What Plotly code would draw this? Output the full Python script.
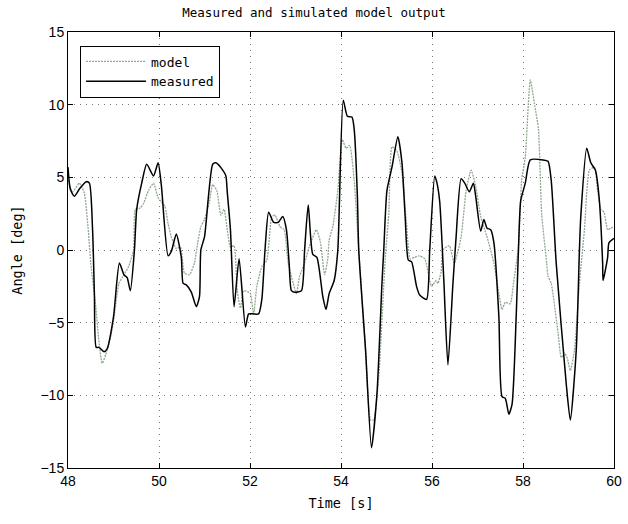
import plotly.graph_objects as go

# measured (black solid)
meas_t = [48.0, 48.05, 48.14, 48.25, 48.4, 48.47, 48.54, 48.58, 48.62, 48.68, 48.79, 48.86, 49.0, 49.13,
          49.23, 49.3, 49.37, 49.46, 49.51, 49.62, 49.73, 49.88, 49.98, 50.05, 50.2, 50.27, 50.38, 50.49,
          50.53, 50.6, 50.71, 50.82, 50.89, 50.92, 51.0, 51.18, 51.25, 51.4, 51.47, 51.5, 51.57, 51.65,
          51.76, 51.9, 51.97, 52.08, 52.19, 52.26, 52.33, 52.41, 52.52, 52.62, 52.72, 52.8, 52.86, 52.91,
          52.98, 53.13, 53.2, 53.28, 53.38, 53.47, 53.6, 53.67, 53.74, 53.85, 53.93, 54.05, 54.14, 54.24,
          54.29, 54.36, 54.39, 54.54, 54.67, 54.79, 54.9, 54.94, 55.01, 55.12, 55.25, 55.34, 55.41, 55.48,
          55.55, 55.66, 55.73, 55.88, 55.95, 56.06, 56.11, 56.17, 56.26, 56.35, 56.46, 56.51, 56.53, 56.64,
          56.72, 56.82, 56.91, 56.96, 57.07, 57.14, 57.21, 57.29, 57.36, 57.47, 57.54, 57.61, 57.69, 57.76,
          57.85, 57.9, 57.95, 58.05, 58.16, 58.44, 58.55, 58.62, 58.73, 58.95, 59.04, 59.17, 59.24, 59.27,
          59.4, 59.49, 59.59, 59.67, 59.75, 59.76, 59.86, 59.89, 60.0]
meas_y = [5.7, 4.2, 3.7, 4.2, 4.7, 4.6, 1.4, -3.0, -6.7, -6.7, -7.0, -6.8, -4.6, -0.9,
          -1.7, -1.9, -2.8, 0.0, 2.8, 4.6, 5.9, 5.1, 6.0, 4.5, -0.4, -0.1, 1.1, -0.5,
          -2.3, -2.4, -2.9, -3.9, -3.2, 0.0, 0.9, 5.9, 6.0, 5.5, 5.1, 4.0, 1.4, -3.9,
          -0.6, -5.3, -4.4, -4.4, -4.4, -3.4, 0.0, 2.6, 1.9, 1.9, 2.3, 1.4, -0.9, -2.8,
          -2.9, -2.8, 0.0, 3.1, -0.3, -0.5, -3.2, -4.1, -3.0, -2.1, 0.0, 10.3, 9.2, 9.15,
          8.3, 3.7, 0.0, -6.9, -13.6, -9.9, -2.3, 0.0, 4.1, 5.7, 7.8, 6.0, 2.3, -0.7,
          -0.8, -2.5, -3.1, -3.4, 0.0, 5.1, 4.6, 3.3, -2.1, -7.9, -2.3, 0.0, 0.9, 4.9,
          4.6, 4.0, 4.6, 3.7, 1.3, 2.1, 1.5, 1.4, 0.5, -4.6, -10.1, -10.2, -11.3, -10.6,
          -4.6, 0.0, 3.4, 4.6, 6.2, 6.2, 6.1, 4.8, -0.9, -9.2, -11.7, -6.9, 0.0, 2.3,
          7.0, 6.0, 5.5, 3.7, -0.9, -2.1, -0.5, 0.5, 0.8]

# model (grey-green dotted)
model_t = [48.0, 48.1, 48.25, 48.36, 48.45, 48.5, 48.61, 48.67, 48.75, 48.83, 48.94, 49.0, 49.12, 49.23,
           49.33, 49.44, 49.48, 49.59, 49.66, 49.77, 49.88, 49.98, 50.13, 50.2, 50.27, 50.38, 50.47, 50.56,
           50.67, 50.78, 50.85, 50.92, 51.0, 51.1, 51.18, 51.27, 51.36, 51.43, 51.5, 51.57, 51.65, 51.72,
           51.79, 51.86, 51.97, 52.01, 52.08, 52.15, 52.26, 52.37, 52.48, 52.55, 52.66, 52.75, 52.84, 52.95,
           53.02, 53.09, 53.2, 53.3, 53.46, 53.55, 53.64, 53.71, 53.74, 53.82, 53.93, 54.03, 54.11, 54.19,
           54.29, 54.36, 54.54, 54.65, 54.72, 54.83, 54.97, 55.05, 55.12, 55.23, 55.34, 55.44, 55.52, 55.62,
           55.72, 55.84, 55.99, 56.09, 56.13, 56.2, 56.24, 56.38, 56.49, 56.64, 56.75, 56.86, 56.96, 57.07,
           57.21, 57.36, 57.47, 57.54, 57.61, 57.72, 57.79, 57.9, 57.97, 58.05, 58.16, 58.26, 58.34, 58.41,
           58.52, 58.55, 58.62, 58.77, 58.84, 58.91, 58.97, 59.04, 59.13, 59.24, 59.35, 59.46, 59.57, 59.64,
           59.71, 59.78, 59.86, 59.93, 60.0]
model_y = [4.8, 4.0, 4.6, 3.9, 1.2, -0.9, -3.9, -6.0, -7.8, -7.2, -5.9, -4.9, -2.3, -1.7,
           -1.15, 0.0, 2.8, 2.9, 3.2, 4.1, 4.6, 3.6, 3.0, 1.8, 0.9, 0.1, 0.2, -1.6,
           -1.7, -0.9, 0.5, 1.6, 2.1, 3.2, 4.5, 4.1, 2.4, 2.8, 1.4, 0.2, 0.3, -2.8,
           -4.0, -2.8, -2.9, -3.0, -4.4, -2.5, -1.15, -0.7, 2.3, 2.4, 1.6, 1.4, -0.9, -2.3,
           -3.0, -1.8, -0.9, 0.2, 1.4, 0.5, -1.7, -0.6, 0.7, 1.6, 4.1, 7.6, 7.0, 7.2,
           4.8, 1.4, -6.9, -11.7, -11.7, -8.7, -0.7, 2.5, 7.1, 6.8, 5.3, 1.8, -0.6, -0.5,
           -0.4, -0.6, -2.5, -2.1, -2.3, -1.5, 0.0, 0.3, -0.9, 0.9, 4.1, 5.5, 4.4, 2.3,
           0.9, -0.9, -3.0, -4.1, -3.6, -3.7, -2.3, 0.2, 4.8, 6.4, 11.7, 9.9, 8.3, 2.5,
           -0.9, -1.8, -2.3, -5.7, -7.4, -7.1, -7.4, -8.3, -6.9, -2.3, 1.4, 5.5, 5.7, 4.1,
           2.8, 2.6, 1.4, 1.5, 1.6]

x_ticks = [48, 50, 52, 54, 56, 58, 60]
y_ticks = [-15, -10, -5, 0, 5, 10, 15]

mono = "DejaVu Sans Mono"
sans = "Liberation Sans Narrow, Liberation Sans, Arial"

fig = go.Figure()
fig.add_trace(go.Scatter(x=model_t, y=model_y, mode="lines", name="model",
                         line=dict(color="#8fa88f", width=1.3, dash="2px,1px",
                                   shape="spline", smoothing=0.5)))
fig.add_trace(go.Scatter(x=meas_t, y=meas_y, mode="lines", name="measured",
                         line=dict(color="black", width=1.5, shape="spline", smoothing=0.6)))

axis_common = dict(showline=True, linecolor="black", linewidth=1, mirror="ticks",
                   ticks="inside", ticklen=5, tickcolor="black",
                   showgrid=True, gridcolor="#777777", griddash="1px,5px", gridwidth=1,
                   zeroline=False, ticklabeloverflow="allow",
                   tickfont=dict(family=sans, size=14, color="black"))

fig.update_layout(
    width=628, height=524,
    margin=dict(l=68, r=6, t=32, b=56),
    paper_bgcolor="white", plot_bgcolor="white",
    title=dict(text="Measured and simulated model output", x=0.5, xref="container",
               y=0.985, yanchor="top", font=dict(family=mono, size=12.5, color="black")),
    xaxis=dict(range=[48, 60], tickvals=x_ticks,
               title=dict(text="Time [s]", font=dict(family=mono, size=13.5, color="black"), standoff=10),
               **axis_common),
    yaxis=dict(range=[-15, 15], tickvals=y_ticks,
               title=dict(text="Angle [deg]", font=dict(family=mono, size=13.5, color="black"), standoff=14),
               **axis_common),
    legend=dict(x=0.022, y=0.969, xanchor="left", yanchor="top",
                bgcolor="white", bordercolor="black", borderwidth=1,
                font=dict(family=mono, size=13, color="black"),
                itemwidth=60, tracegroupgap=0),
    showlegend=True,
)

fig.write_html("out.html")
